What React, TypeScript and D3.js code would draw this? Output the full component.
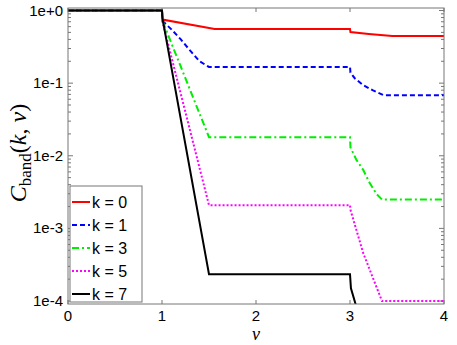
import * as d3 from "d3";

// nu values and C_band values per k
const nuK0 = [0, 1, 1.005, 1.56, 3, 3.005, 3.2, 3.45, 4];
const cK0 = [1, 1, 0.75, 0.556, 0.556, 0.505, 0.475, 0.445, 0.445];

const nuK1 = [0, 1, 1.005, 1.1, 1.2, 1.3, 1.4, 1.5, 3, 3.005, 3.05, 3.14, 3.24, 3.36, 4];
const cK1 = [1, 1, 0.72, 0.55, 0.4, 0.28, 0.2, 0.167, 0.167, 0.14, 0.117, 0.094, 0.08, 0.068, 0.068];

const nuK3 = [0, 1, 1.005, 1.5, 3, 3.005, 3.07, 3.14, 3.21, 3.28, 3.34, 4];
const cK3 = [1, 1, 0.72, 0.018, 0.018, 0.013, 0.0087, 0.0064, 0.0042, 0.003, 0.0025, 0.0025];

const nuK5 = [0, 1, 1.005, 1.5, 3, 3.005, 3.14, 3.34, 4];
const cK5 = [1, 1, 0.7, 0.00209, 0.00209, 0.0018, 0.00046, 0.0001, 0.0001];

const nuK7 = [0, 1, 1.005, 1.5, 3, 3.01, 3.06, 3.12];
const cK7 = [1, 1, 0.78, 0.000234, 0.000234, 0.00015, 0.00009, 0.00004];

const legendLabels = ["k = 0", "k = 1", "k = 3", "k = 5", "k = 7"];
const xTicks = [0, 1, 2, 3, 4];
const yTicks = [1, 0.1, 0.01, 0.001, 0.0001];
const yTickLabels = ["1e+0", "1e-1", "1e-2", "1e-3", "1e-4"];

const W = 457;
const H = 345;
const plot = { left: 68, right: 444, top: 8, bottom: 304 };

const series = [
  { nu: nuK0, c: cK0, color: "#ff0000", dash: "none" },
  { nu: nuK1, c: cK1, color: "#0000ff", dash: "5,3" },
  { nu: nuK3, c: cK3, color: "#00ee00", dash: "7,3,2,3" },
  { nu: nuK5, c: cK5, color: "#ff00ff", dash: "2,2" },
  { nu: nuK7, c: cK7, color: "#000000", dash: "none" },
];

export default function App() {
  const x = d3.scaleLinear().domain([0, 4]).range([plot.left, plot.right]);
  const y = d3.scaleLog().domain([9.1e-5, 1.083]).range([plot.bottom, plot.top]);

  const line = d3
    .line<[number, number]>()
    .x((d) => x(d[0]))
    .y((d) => y(d[1]));

  // minor ticks 2..9 for each decade
  const minor: number[] = [];
  for (let e = -5; e <= 0; e++) {
    for (let m = 2; m <= 9; m++) {
      const v = m * Math.pow(10, e);
      if (v >= 9.1e-5 && v <= 1.083) minor.push(v);
    }
  }

  const legendY = d3.scalePoint().domain(legendLabels).range([202, 294]);
  const axisColor = "#777";

  return (
    <svg
      width={W}
      height={H}
      style={{ position: "absolute", left: 0, top: 0, background: "#fff" }}
      fontFamily="'Liberation Sans', Arial, sans-serif"
    >
      <defs>
        <clipPath id="clip">
          <rect x={plot.left} y={plot.top} width={plot.right - plot.left} height={plot.bottom - plot.top} />
        </clipPath>
      </defs>

      {/* ticks */}
      {xTicks.map((t) => (
        <g key={"xt" + t}>
          <line x1={x(t)} x2={x(t)} y1={plot.bottom} y2={plot.bottom - 4} stroke={axisColor} />
          <line x1={x(t)} x2={x(t)} y1={plot.top} y2={plot.top + 4} stroke={axisColor} />
          <text x={x(t)} y={plot.bottom + 17} fontSize={15} textAnchor="middle" fill="#000">
            {t}
          </text>
        </g>
      ))}
      {yTicks.map((t, i) => (
        <g key={"yt" + t}>
          <line x1={plot.left} x2={plot.left + 5} y1={y(t)} y2={y(t)} stroke={axisColor} />
          <line x1={plot.right} x2={plot.right - 5} y1={y(t)} y2={y(t)} stroke={axisColor} />
          <text x={63} y={y(t) + 5} fontSize={15} textAnchor="end" fill="#000">
            {yTickLabels[i]}
          </text>
        </g>
      ))}
      {minor.map((v) => (
        <g key={"m" + v}>
          <line x1={plot.left} x2={plot.left + 3} y1={y(v)} y2={y(v)} stroke={axisColor} />
          <line x1={plot.right} x2={plot.right - 3} y1={y(v)} y2={y(v)} stroke={axisColor} />
        </g>
      ))}

      {/* curves */}
      <g clipPath="url(#clip)">
        {series.map((s, i) => (
          <path
            key={i}
            d={line(s.nu.map((n, j) => [n, s.c[j]] as [number, number])) || ""}
            fill="none"
            stroke={s.color}
            strokeWidth={2}
            strokeDasharray={s.dash}
          />
        ))}
      </g>

      <rect
        x={plot.left}
        y={plot.top}
        width={plot.right - plot.left}
        height={plot.bottom - plot.top}
        fill="none"
        stroke={axisColor}
      />

      {/* legend */}
      <rect x={70} y={186} width={72} height={116} fill="#fff" stroke={axisColor} />
      {legendLabels.map((lab, i) => (
        <g key={lab}>
          <line
            x1={72}
            x2={90}
            y1={legendY(lab)}
            y2={legendY(lab)}
            stroke={series[i].color}
            strokeWidth={2}
            strokeDasharray={series[i].dash}
          />
          <text x={92} y={(legendY(lab) || 0) + 6} fontSize={16} fill="#000">
            {lab}
          </text>
        </g>
      ))}

      {/* axis labels */}
      <text
        transform="translate(26,153) rotate(-90)"
        textAnchor="middle"
        fontFamily="'Liberation Serif', 'Times New Roman', serif"
        fontSize={24}
        fill="#000"
      >
        <tspan fontStyle="italic">C</tspan>
        <tspan fontSize={17} dy={5}>band</tspan>
        <tspan dy={-5}>(</tspan>
        <tspan fontStyle="italic">k</tspan>
        <tspan>, </tspan>
        <tspan fontStyle="italic">ν</tspan>
        <tspan>)</tspan>
      </text>
      <text
        x={x(2)}
        y={340}
        textAnchor="middle"
        fontFamily="'Liberation Serif', 'Times New Roman', serif"
        fontStyle="italic"
        fontSize={18}
        fill="#000"
      >
        ν
      </text>
    </svg>
  );
}
